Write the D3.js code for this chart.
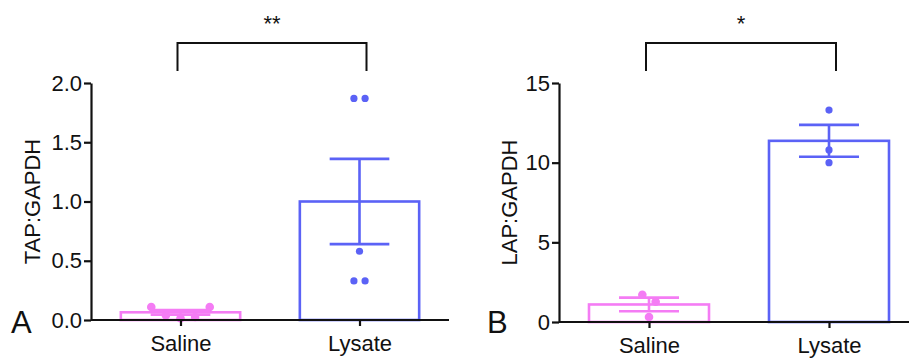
<!DOCTYPE html>
<html>
<head>
<meta charset="utf-8">
<script src="https://cdn.jsdelivr.net/npm/d3@7"></script>
<style>
  body { margin: 0; background: #fff; }
  text { font-family: "Liberation Sans", Arial, sans-serif; }
</style>
</head>
<body>
<script>
var width = 909;
var height = 359;

var groups = ["Saline", "Lysate"];
var groupColors = ["#f47cf4", "#5b62f6"];

// panel A: TAP:GAPDH
var tapPoints = [
  [0.11, 0.04, 0.015, 0.025, 0.11],
  [1.87, 1.87, 0.58, 0.33, 0.33]
];
var tapMean = [0.065, 1.0];
var tapSem = [0.02, 0.36];
var tapTicks = [0, 0.5, 1.0, 1.5, 2.0];

// panel B: LAP:GAPDH
var lapPoints = [
  [1.71, 1.27, 0.31],
  [13.3, 10.8, 10.0]
];
var lapMean = [1.1, 11.37];
var lapSem = [0.43, 1.0];
var lapTicks = [0, 5, 10, 15];

var svg = d3.select("body")
  .append("svg")
  .attr("width", width)
  .attr("height", height);

function panel(opt) {
  var g = svg.append("g");

  var x = d3.scalePoint()
    .domain(groups)
    .range([opt.left, opt.right])
    .padding(0.5);
  var step = x.step();

  var y = d3.scaleLinear()
    .domain([0, opt.max])
    .range([opt.bottom, opt.top]);

  // bars
  g.selectAll("rect.bar")
    .data(groups)
    .enter().append("rect")
      .attr("class", "bar")
      .attr("x", function(d) { return x(d) - step / 3; })
      .attr("width", step * 2 / 3)
      .attr("y", function(d, i) { return y(opt.mean[i]); })
      .attr("height", function(d, i) { return y(0) - y(opt.mean[i]); })
      .attr("fill", "none")
      .attr("stroke", function(d, i) { return groupColors[i]; })
      .attr("stroke-width", 2.6);

  // points, spread sideways when they sit on top of each other
  groups.forEach(function(grp, i) {
    var vals = opt.points[i];
    var r = i === 0 ? 4.3 : 3.6;
    var pts = vals.map(function(v) { return { v: v, py: y(v) }; });
    // cluster by pixel closeness
    var clusters = [];
    pts.forEach(function(p) {
      var c = clusters.find(function(c) {
        return c.some(function(q) { return Math.abs(q.py - p.py) < r * 2.2; });
      });
      if (c) c.push(p); else clusters.push([p]);
    });
    clusters.forEach(function(c) {
      var s = c.length > 2 ? r * 3.4 : r * 3.1;
      c.forEach(function(p, k) { p.dx = (k - (c.length - 1) / 2) * s; });
    });

    g.selectAll("circle.p" + i)
      .data(pts)
      .enter().append("circle")
        .attr("cx", function(d) { return x(grp) + d.dx; })
        .attr("cy", function(d) { return d.py; })
        .attr("r", r)
        .attr("fill", groupColors[i]);

    // error bar (mean ± SEM)
    var cx = x(grp), hi = y(opt.mean[i] + opt.sem[i]), lo = y(Math.max(0, opt.mean[i] - opt.sem[i]));
    var cap = step / 6;
    var eb = g.append("g")
      .attr("stroke", groupColors[i])
      .attr("stroke-width", 2.6);
    eb.append("line").attr("x1", cx).attr("x2", cx).attr("y1", hi).attr("y2", lo);
    eb.append("line").attr("x1", cx - cap).attr("x2", cx + cap).attr("y1", hi).attr("y2", hi);
    eb.append("line").attr("x1", cx - cap).attr("x2", cx + cap).attr("y1", lo).attr("y2", lo);
  });

  // axes
  var yAxis = d3.axisLeft(y)
    .tickValues(opt.ticks)
    .tickFormat(d3.format(opt.fmt))
    .tickSize(7)
    .tickPadding(2)
    .tickSizeOuter(0);
  var ya = g.append("g")
    .attr("transform", "translate(" + opt.left + ",0)")
    .call(yAxis);

  var xAxis = d3.axisBottom(x)
    .tickSize(6)
    .tickPadding(9)
    .tickSizeOuter(0);
  var xa = g.append("g")
    .attr("transform", "translate(0," + opt.bottom + ")")
    .call(xAxis);

  [ya, xa].forEach(function(a) {
    a.selectAll("path, line").attr("stroke", "#111").attr("stroke-width", 2.2);
    a.selectAll("text").attr("font-size", 22).attr("fill", "#111");
  });
  xa.select("path").attr("d", "M" + opt.left + ",0H" + opt.axisEnd);

  // y title
  g.append("text")
    .attr("transform", "translate(" + opt.titleX + "," + ((opt.top + opt.bottom) / 2) + ") rotate(-90)")
    .attr("text-anchor", "middle")
    .attr("font-size", 22)
    .attr("fill", "#111")
    .text(opt.title);

  // panel letter
  g.append("text")
    .attr("x", opt.letterX)
    .attr("y", 333)
    .attr("font-size", 31)
    .attr("fill", "#111")
    .text(opt.letter);

  // significance bracket
  var bx1 = x(groups[0]) - 3, bx2 = x(groups[1]) + 7;
  g.append("path")
    .attr("d", "M" + bx1 + ",71V43H" + bx2 + "V71")
    .attr("fill", "none")
    .attr("stroke", "#111")
    .attr("stroke-width", 2);
  g.append("text")
    .attr("x", (bx1 + bx2) / 2)
    .attr("y", 31)
    .attr("text-anchor", "middle")
    .attr("font-size", 22)
    .attr("fill", "#111")
    .text(opt.sig);
}

panel({
  left: 91, right: 449, axisEnd: 449, top: 83, bottom: 320,
  max: 2, ticks: tapTicks, fmt: ".1f",
  points: tapPoints, mean: tapMean, sem: tapSem,
  title: "TAP:GAPDH", titleX: 40, letter: "A", letterX: 11, sig: "**"
});

panel({
  left: 559, right: 919, axisEnd: 909, top: 83, bottom: 322,
  max: 15, ticks: lapTicks, fmt: "d",
  points: lapPoints, mean: lapMean, sem: lapSem,
  title: "LAP:GAPDH", titleX: 517, letter: "B", letterX: 487, sig: "*"
});
</script>
</body>
</html>
